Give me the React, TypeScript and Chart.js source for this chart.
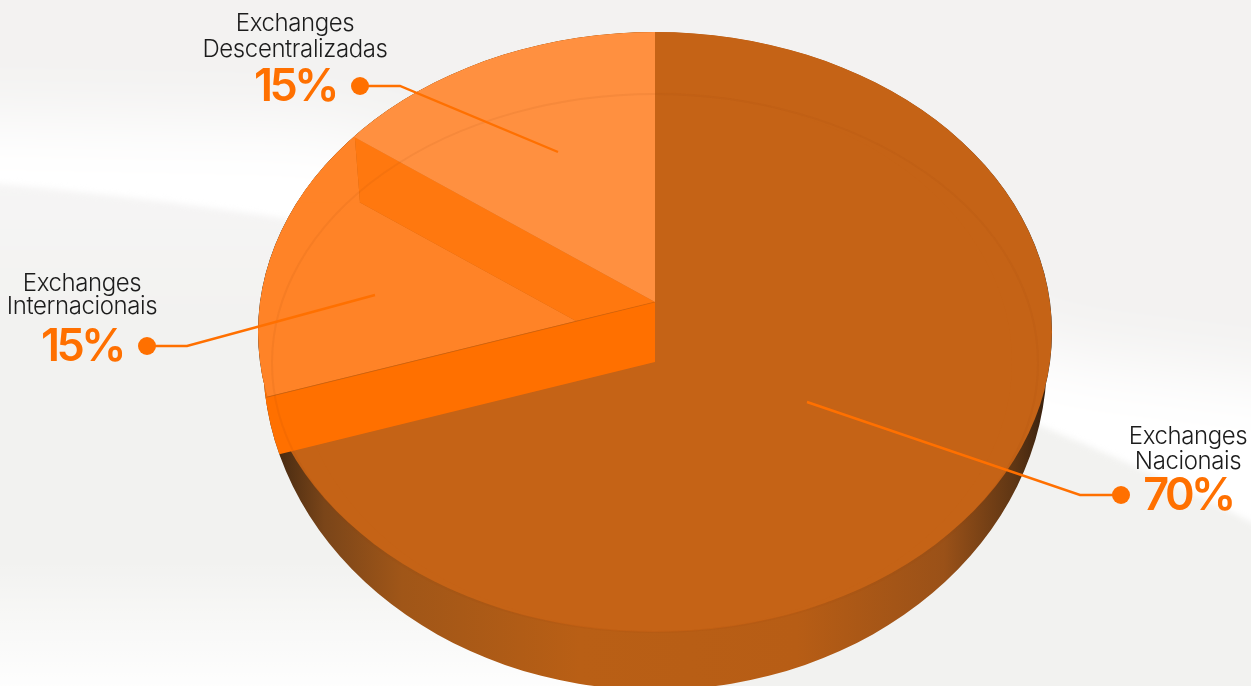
import React, { useEffect, useRef } from "react";
import { Chart, registerables } from "chart.js";

Chart.register(...registerables);

const categories = ["Exchanges Nacionais", "Exchanges Internacionais", "Exchanges Descentralizadas"];
const shares = [70, 15, 15];
const sliceColors = ["#c56316", "#ff8327", "#ff9040"];
const labelLines = [
  ["Exchanges", "Nacionais"],
  ["Exchanges", "Internacionais"],
  ["Exchanges", "Descentralizadas"],
];

const WIDTH = 1251;
const HEIGHT = 686;
const ORANGE = "#ff7000";
const CX = 655;
const FACE = { cy: 332, rx: 397, ry: 300 };
const ASPECT = 0.755;

// Where each slice's tip sits on the tilted disc, and how far its arc reaches.
const sliceLayout = [
  { x: CX, y: 362, r: 357 },
  { x: 576, y: 321, r: 520 },
  { x: CX, y: 302, r: 470 },
];

// Callout placement per slice: text blocks, dot, elbow and the end inside the slice.
const callouts = [
  { tx: 1188, y1: 436.5, y2: 461.5, y3: 496, dot: [1121, 495], elbow: [1080, 495], end: [807, 402] },
  { tx: 82, y1: 283.5, y2: 306.5, y3: 347, dot: [147, 346], elbow: [187, 346], end: [375, 295] },
  { tx: 295, y1: 23.5, y2: 49.5, y3: 87, dot: [360, 86], elbow: [400, 86], end: [558, 152] },
];

// Outline of the whole disc: the face plus the wall bulging out below it.
function silhouette(ctx: CanvasRenderingContext2D) {
  ctx.beginPath();
  ctx.ellipse(CX, FACE.cy, FACE.rx, FACE.ry, 0, 0, 2 * Math.PI);
  ctx.closePath();
  ctx.ellipse(CX, 360, 392, 330, 0, 0, Math.PI);
  ctx.closePath();
}

function faceEllipse(ctx: CanvasRenderingContext2D) {
  ctx.beginPath();
  ctx.ellipse(CX, FACE.cy, FACE.rx, FACE.ry, 0, 0, 2 * Math.PI);
}

function drawBackdrop(ctx: CanvasRenderingContext2D) {
  ctx.fillStyle = "#f3f2f1";
  ctx.fillRect(0, 0, WIDTH, HEIGHT);

  // Soft white sweep running across the page.
  ctx.save();
  ctx.filter = "blur(36px)";
  ctx.fillStyle = "#ffffff";
  ctx.beginPath();
  ctx.moveTo(-160, 115);
  ctx.lineTo(320, 125);
  ctx.lineTo(760, 240);
  ctx.lineTo(1060, 355);
  ctx.lineTo(1420, 400);
  ctx.lineTo(1420, 800);
  ctx.lineTo(-160, 500);
  ctx.closePath();
  ctx.fill();
  ctx.restore();

  // Grey ground below the sweep, its upper edge only slightly softened.
  ctx.save();
  ctx.filter = "blur(3px)";
  const ground = ctx.createLinearGradient(0, 180, 0, 330);
  ground.addColorStop(0, "#f6f5f5");
  ground.addColorStop(1, "#f2f2f0");
  ctx.fillStyle = ground;
  ctx.beginPath();
  ctx.moveTo(-20, 182);
  ctx.bezierCurveTo(350, 215, 800, 290, 1271, 532);
  ctx.lineTo(1271, 720);
  ctx.lineTo(-20, 720);
  ctx.closePath();
  ctx.fill();
  ctx.restore();

  // Faint glow along the bottom left.
  const glow = ctx.createLinearGradient(0, 560, 0, 686);
  glow.addColorStop(0, "rgba(255,255,255,0)");
  glow.addColorStop(1, "rgba(255,255,255,0.9)");
  ctx.fillStyle = glow;
  ctx.fillRect(0, 560, 640, 126);
}

function rayEnd(layout: { x: number; y: number }, angle: number, reach: number) {
  return [layout.x + Math.cos(angle) * reach, layout.y + Math.sin(angle) * reach * ASPECT];
}

function polygon(ctx: CanvasRenderingContext2D, pts: number[][], fill: string | CanvasGradient) {
  ctx.beginPath();
  pts.forEach((p, i) => (i ? ctx.lineTo(p[0], p[1]) : ctx.moveTo(p[0], p[1])));
  ctx.closePath();
  ctx.fillStyle = fill;
  ctx.fill();
}

function drawArc(ctx: CanvasRenderingContext2D, arc: any, index: number, area: any) {
  const place = sliceLayout[index];
  const k = place.r / arc.outerRadius;
  ctx.save();
  ctx.translate(place.x, place.y);
  ctx.scale(k, k * ASPECT);
  ctx.translate(-arc.x, -arc.y);
  arc.draw(ctx, area);
  ctx.restore();
}

const tiltedPie = {
  id: "tiltedPie",
  beforeDraw(chart: any) {
    drawBackdrop(chart.ctx);
  },
  beforeDatasetsDraw(chart: any) {
    const ctx: CanvasRenderingContext2D = chart.ctx;
    const arcs = chart.getDatasetMeta(0).data;
    const area = chart.chartArea;
    const [nacionais, internacionais, descentralizadas] = arcs;
    const boundary = internacionais.startAngle; // Nacionais / Internacionais edge
    const upper = descentralizadas.startAngle; // Internacionais / Descentralizadas edge

    ctx.save();
    silhouette(ctx);
    ctx.clip();

    // Outer wall, shaded from the rim's two dark ends towards the middle.
    const wall = ctx.createLinearGradient(270, 0, 1045, 0);
    wall.addColorStop(0, "#3f2610");
    wall.addColorStop(0.07, "#7a4519");
    wall.addColorStop(0.17, "#a05618");
    wall.addColorStop(0.4, "#b95f15");
    wall.addColorStop(0.68, "#b75d15");
    wall.addColorStop(0.87, "#9a5118");
    wall.addColorStop(0.96, "#5f3614");
    wall.addColorStop(1, "#3a220f");
    ctx.fillStyle = wall;
    ctx.fillRect(0, 0, WIDTH, HEIGHT);

    // The wall stays hidden above the bright cut on the left side.
    ctx.fillStyle = ORANGE;
    ctx.fillRect(240, 370, 40, 34);

    // Top face of the disc.
    faceEllipse(ctx);
    ctx.fillStyle = sliceColors[0];
    ctx.fill();
    drawArc(ctx, nacionais, 0, area);

    // Lowered slices and the small rim to the left of their step.
    ctx.save();
    faceEllipse(ctx);
    ctx.clip();
    drawArc(ctx, internacionais, 1, area);
    const stepTop = rayEnd(sliceLayout[2], upper, 371);
    const stepFoot = rayEnd(sliceLayout[1], upper, 267);
    polygon(ctx, [[stepTop[0], stepTop[1] - 60], stepTop, stepFoot, [0, stepFoot[1]], [0, stepTop[1] - 60]], sliceColors[1]);
    polygon(ctx, [[sliceLayout[2].x, sliceLayout[2].y], stepTop, stepFoot, [sliceLayout[1].x, sliceLayout[1].y]], "#ff780f");
    ctx.restore();

    // Bright cut face between Nacionais and Internacionais.
    const bandTop = rayEnd(sliceLayout[2], boundary, 510);
    const bandFoot = rayEnd(sliceLayout[0], boundary, 510);
    polygon(
      ctx,
      [
        [sliceLayout[2].x, sliceLayout[2].y],
        [sliceLayout[0].x, sliceLayout[0].y],
        bandFoot,
        bandTop,
      ],
      ORANGE,
    );
    ctx.strokeStyle = "rgba(190,90,10,0.4)";
    ctx.lineWidth = 1;
    ctx.beginPath();
    ctx.moveTo(sliceLayout[2].x, sliceLayout[2].y);
    ctx.lineTo(bandTop[0], bandTop[1]);
    ctx.stroke();

    ctx.save();
    faceEllipse(ctx);
    ctx.clip();
    drawArc(ctx, descentralizadas, 2, area);
    ctx.restore();

    // Thin ring inset in the face.
    ctx.strokeStyle = "rgba(150,70,10,0.09)";
    ctx.lineWidth = 2;
    ctx.beginPath();
    ctx.ellipse(CX, 363, 383, 269, 0, 0, 2 * Math.PI);
    ctx.stroke();
    ctx.restore();

    drawCallouts(ctx);
    return false;
  },
};

function drawCallouts(ctx: CanvasRenderingContext2D) {
  callouts.forEach((c, i) => {
    ctx.strokeStyle = ORANGE;
    ctx.lineWidth = 2.4;
    ctx.beginPath();
    ctx.moveTo(c.dot[0], c.dot[1]);
    ctx.lineTo(c.elbow[0], c.elbow[1]);
    ctx.lineTo(c.end[0], c.end[1]);
    ctx.stroke();
    ctx.fillStyle = ORANGE;
    ctx.beginPath();
    ctx.arc(c.dot[0], c.dot[1], 9, 0, 2 * Math.PI);
    ctx.fill();

    ctx.textAlign = "center";
    ctx.textBaseline = "middle";
    (ctx as any).letterSpacing = "-0.4px";
    ctx.font = "300 24px Inter, Roboto, sans-serif";
    ctx.fillStyle = "#1c1c1c";
    ctx.fillText(labelLines[i][0], c.tx, c.y1);
    ctx.fillText(labelLines[i][1], c.tx, c.y2);
    (ctx as any).letterSpacing = "-3.5px";
    ctx.font = "600 45px Inter, Roboto, sans-serif";
    ctx.fillStyle = ORANGE;
    ctx.fillText(`${shares[i]}%`, c.tx, c.y3);
    (ctx as any).letterSpacing = "0px";
  });
}

export default function App() {
  const canvasRef = useRef<HTMLCanvasElement | null>(null);

  useEffect(() => {
    document.body.style.margin = "0";
    const chart = new Chart(canvasRef.current as HTMLCanvasElement, {
      type: "pie",
      data: {
        labels: categories,
        datasets: [{ data: shares, backgroundColor: sliceColors, borderWidth: 0 }],
      },
      options: {
        responsive: false,
        animation: false,
        layout: { padding: 0 },
        plugins: { legend: { display: false }, tooltip: { enabled: false } },
      },
      plugins: [tiltedPie],
    } as any);
    return () => chart.destroy();
  }, []);

  return (
    <div style={{ width: WIDTH, height: HEIGHT, overflow: "hidden" }}>
      <canvas ref={canvasRef} width={WIDTH} height={HEIGHT} style={{ display: "block" }} />
    </div>
  );
}
